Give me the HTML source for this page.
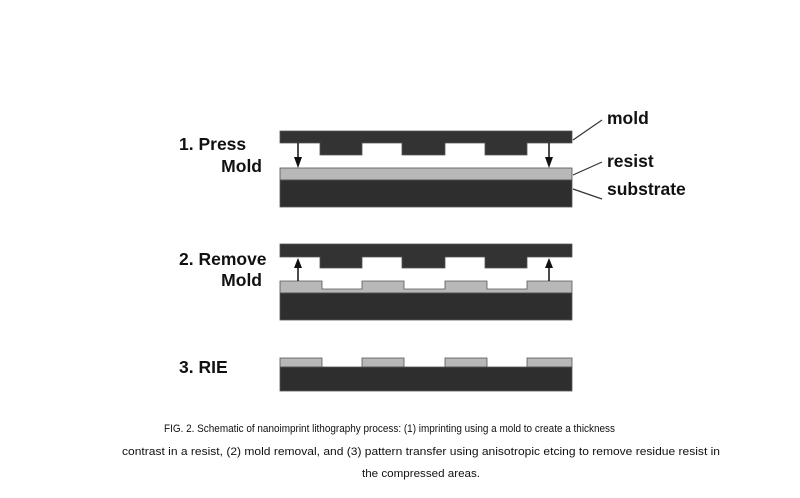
<!DOCTYPE html>
<html><head><meta charset="utf-8"><style>
html,body{margin:0;padding:0;background:#fff;}
svg{display:block;}
.lb{font-family:"Liberation Sans",Arial,sans-serif;font-weight:bold;font-size:17.5px;fill:#111;}
.cap{font-family:"Liberation Sans",Arial,sans-serif;font-size:11px;fill:#111;}
</style></head><body>
<svg width="800" height="498" viewBox="0 0 800 498" xmlns="http://www.w3.org/2000/svg">
<rect width="800" height="498" fill="#fff"/>
<g stroke="#555" stroke-width="0.8">
<path d="M280,131 H572 V143 H527 V155 H485 V143 H445 V155 H402 V143 H362 V155 H320 V143 H280 Z" fill="#333"/>
<rect x="280" y="168" width="292" height="12" fill="#b8b8b8"/>
<rect x="280" y="180" width="292" height="27" fill="#2e2e2e"/>
<path d="M280,244 H572 V257 H527 V268 H485 V257 H445 V268 H402 V257 H362 V268 H320 V257 H280 Z" fill="#333"/>
<path d="M280,281 H322 V289 H362 V281 H404 V289 H445 V281 H487 V289 H527 V281 H572 V293 H280 Z" fill="#b8b8b8"/>
<rect x="280" y="293" width="292" height="27" fill="#2e2e2e"/>
<rect x="280" y="358" width="42" height="9" fill="#b8b8b8"/>
<rect x="362" y="358" width="42" height="9" fill="#b8b8b8"/>
<rect x="445" y="358" width="42" height="9" fill="#b8b8b8"/>
<rect x="527" y="358" width="45" height="9" fill="#b8b8b8"/>
<rect x="280" y="367" width="292" height="24" fill="#2e2e2e"/>
</g>
<g stroke="#111" stroke-width="1.5">
<line x1="298" y1="143" x2="298" y2="158"/>
<line x1="549" y1="143" x2="549" y2="158"/>
<line x1="298" y1="281" x2="298" y2="266"/>
<line x1="549" y1="281" x2="549" y2="266"/>
</g>
<path d="M294,157 L302,157 L298,168 Z" fill="#111"/>
<path d="M545,157 L553,157 L549,168 Z" fill="#111"/>
<path d="M294,268 L302,268 L298,258 Z" fill="#111"/>
<path d="M545,268 L553,268 L549,258 Z" fill="#111"/>
<g stroke="#333" stroke-width="1.2">
<line x1="573" y1="140" x2="602" y2="120"/>
<line x1="573" y1="175" x2="602" y2="162"/>
<line x1="573" y1="189" x2="602" y2="199"/>
</g>
<text class="lb" x="607" y="124">mold</text>
<text class="lb" x="607" y="167">resist</text>
<text class="lb" x="607" y="195">substrate</text>
<text class="lb" x="179" y="150">1. Press</text>
<text class="lb" x="262" y="172" text-anchor="end">Mold</text>
<text class="lb" x="179" y="265">2. Remove</text>
<text class="lb" x="262" y="286" text-anchor="end">Mold</text>
<text class="lb" x="179" y="373">3. RIE</text>
<text class="cap" x="164" y="432" textLength="451" lengthAdjust="spacingAndGlyphs">FIG. 2. Schematic of nanoimprint lithography process: (1) imprinting using a mold to create a thickness</text>
<text class="cap" x="122" y="455" textLength="598" lengthAdjust="spacingAndGlyphs">contrast in a resist, (2) mold removal, and (3) pattern transfer using anisotropic etcing to remove residue resist in</text>
<text class="cap" x="362" y="477" textLength="118" lengthAdjust="spacingAndGlyphs">the compressed areas.</text>
</svg>
</body></html>
